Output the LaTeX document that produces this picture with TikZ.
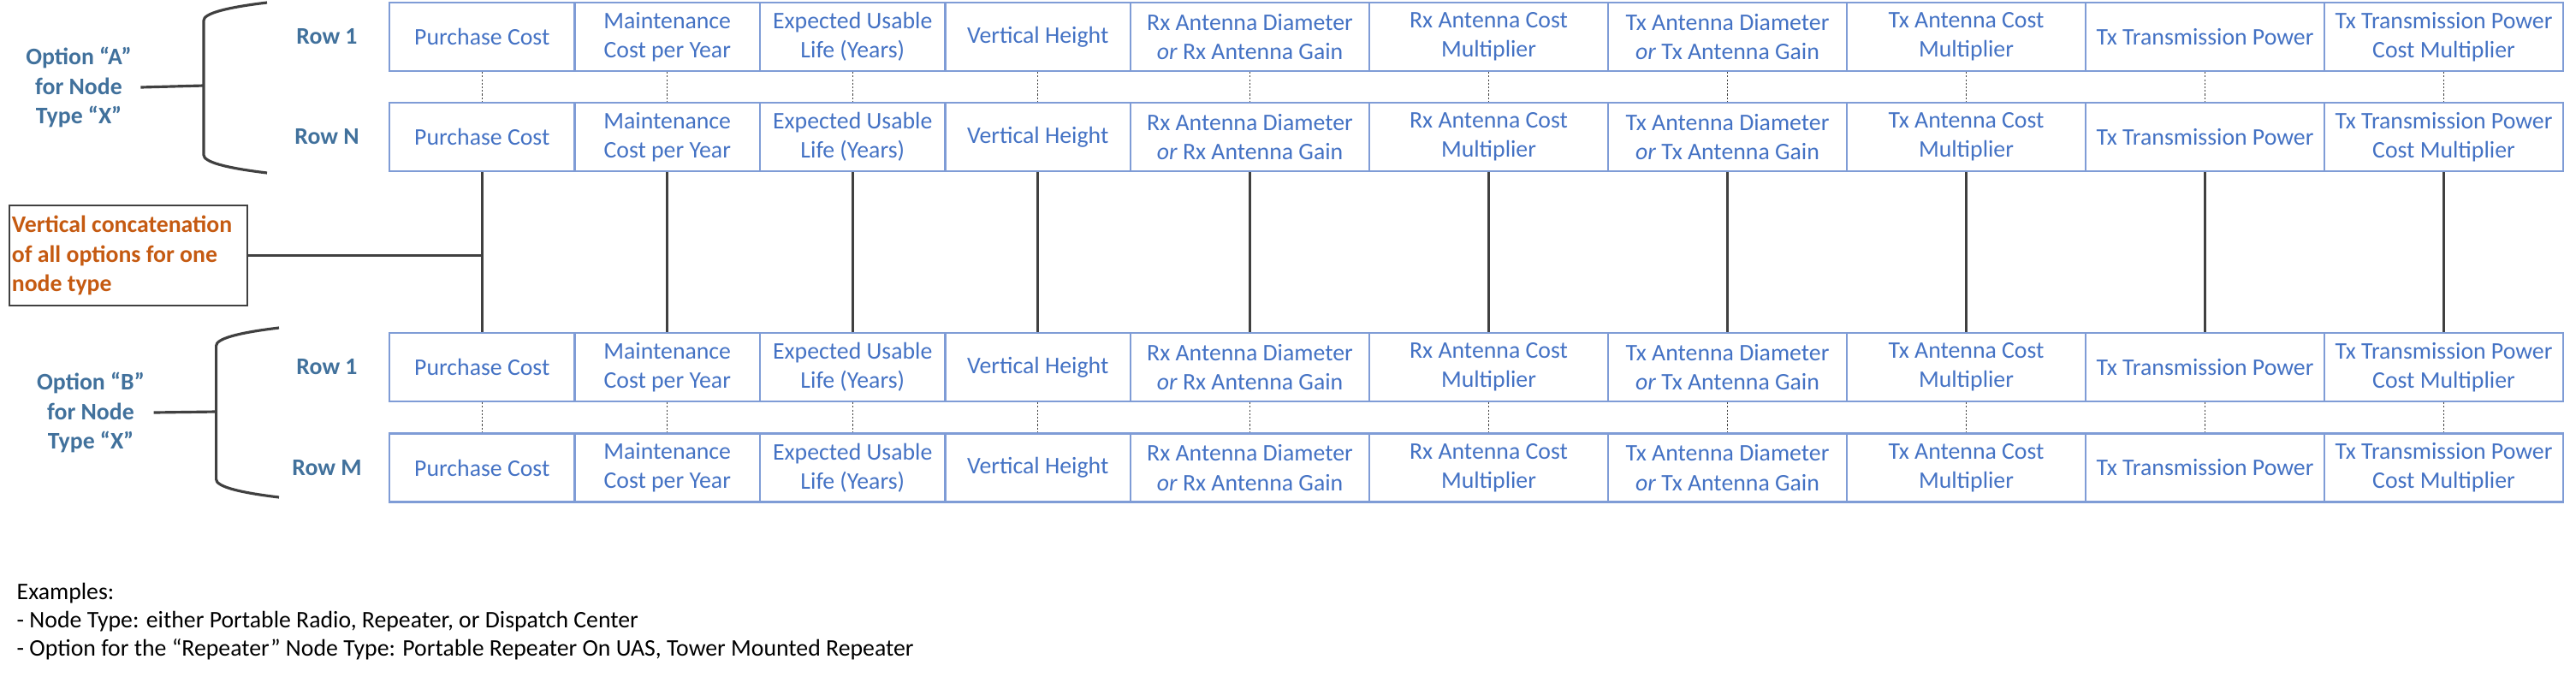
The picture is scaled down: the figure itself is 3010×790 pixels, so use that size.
\documentclass[tikz,border=0pt]{standalone}
\usepackage{fontspec}
\setmainfont{Carlito}
\usepackage{tikz}
\usetikzlibrary{positioning}
\definecolor{cellblue}{RGB}{68,114,196}
\definecolor{celledge}{RGB}{127,156,214}
\definecolor{rowblue}{RGB}{65,113,156}
\definecolor{noteorange}{RGB}{197,90,17}
\definecolor{linegray}{RGB}{64,64,64}

\begin{document}
\begin{tikzpicture}[x=0.01cm, y=-0.01cm,
  cell/.style={draw=celledge, line width=0.6pt, text=cellblue, align=center,
    minimum height=0.8cm, inner sep=0pt, font=\fontsize{7.9}{9.7}\selectfont},
  rowlbl/.style={text=rowblue, font=\fontsize{7.9}{9.7}\selectfont\bfseries},
  brace/.style={linegray, line width=0.9pt},
  link/.style={linegray, line width=0.9pt},
  dots/.style={linegray, line width=0.35pt, dash pattern=on 0.6pt off 0.6pt}]
\useasboundingbox (0,0) rectangle (3010,790);
% Table rows, option A and option B
\foreach \i/\cx/\w/\txt in {
    1/563.25/2.165/{Purchase Cost},
    2/779.75/2.165/{Maintenance\\Cost per Year},
    3/996.25/2.165/{Expected Usable\\Life (Years)},
    4/1212.75/2.165/{Vertical Height},
    5/1460.5/2.79/{Rx Antenna Diameter\\\textit{or} Rx Antenna Gain},
    6/1739.5/2.79/{Rx Antenna Cost\\Multiplier},
    7/2018.5/2.79/{Tx Antenna Diameter\\\textit{or} Tx Antenna Gain},
    8/2297.5/2.79/{Tx Antenna Cost\\Multiplier},
    9/2576.5/2.79/{Tx Transmission Power},
    10/2855.5/2.79/{Tx Transmission Power\\Cost Multiplier}}{
  \node[cell, minimum width=\w cm] (a1-\i) at (\cx,43) {\txt};
  \node[cell, minimum width=\w cm] (aN-\i) at (\cx,160) {\txt};
  \node[cell, minimum width=\w cm] (b1-\i) at (\cx,429) {\txt};
  \node[cell, minimum width=\w cm] (bM-\i) at (\cx,546.5) {\txt};
  \draw[dots] (a1-\i) -- (aN-\i);
  \draw[dots] (b1-\i) -- (bM-\i);
  \draw[link] (aN-\i) -- (b1-\i);
}
% Row labels
\node[rowlbl] (rA1) at (382,43) {Row 1};
\node[rowlbl] (rAN) at (382,160) {Row N};
\node[rowlbl] (rB1) at (382,429) {Row 1};
\node[rowlbl] (rBM) at (382,546.5) {Row M};
% Brace for option A
\coordinate (bA) at (238,100);
\draw[brace] (312,3) .. controls (262,9) and (238,16) .. (238,24) -- (238,181)
  .. controls (238,189) and (262,196) .. (312,202);
\node[rowlbl, align=center, inner sep=0.1cm] (optA) at (92,102)
  {Option “A”\\for Node\\Type “X”};
\draw[brace] (optA.east) -- (bA);
% Brace for option B
\coordinate (bB) at (252.6,481);
\draw[brace] (326,383) .. controls (276,389) and (252.6,396) .. (252.6,404) -- (252.6,560)
  .. controls (252.6,568) and (276,575) .. (326,581);
\node[rowlbl, align=center, inner sep=0.1cm] (optB) at (106,482)
  {Option “B”\\for Node\\Type “X”};
\draw[brace] (optB.east) -- (bB);
% Concatenation note
\node[draw=linegray, line width=0.5pt, text=noteorange, anchor=north west,
  text width=2.72cm, align=flush left, inner xsep=0.03cm, minimum height=1.17cm,
  font=\fontsize{7.9}{9.7}\selectfont\bfseries] (concat) at (10,239)
  {Vertical concatenation\\of all options for one\\node type};
\draw[link] (concat.east) -- (concat.east -| aN-1.south);
% Examples
\node[anchor=west, align=left, inner sep=0pt, font=\fontsize{7.9}{9.4}\selectfont] (ex) at (19,726)
  {Examples:\\- Node Type: either Portable Radio, Repeater, or Dispatch Center\\- Option for the “Repeater” Node Type: Portable Repeater On UAS, Tower Mounted Repeater};
\end{tikzpicture}
\end{document}
